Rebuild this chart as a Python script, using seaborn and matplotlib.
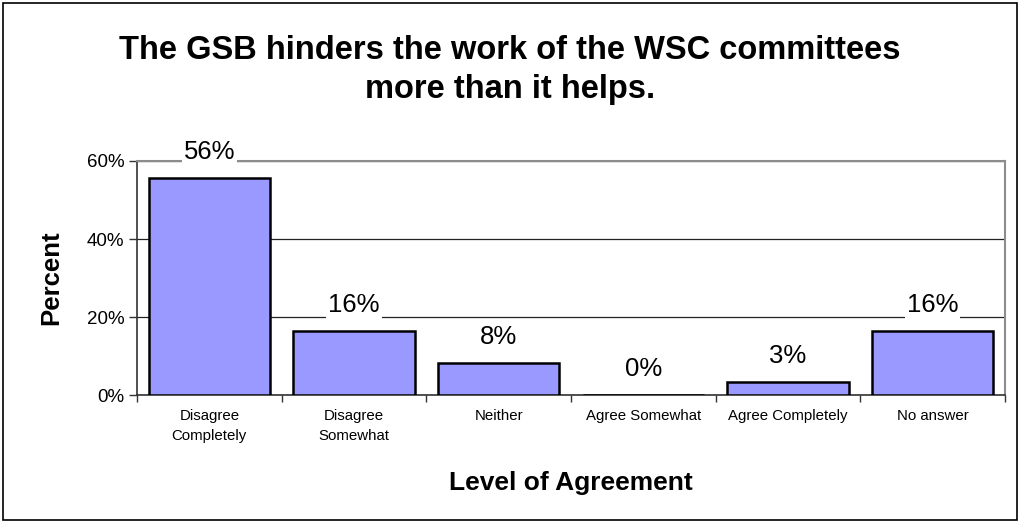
import matplotlib

matplotlib.use("Agg")
import matplotlib.pyplot as plt
import numpy as np
import pandas as pd
import seaborn as sns
from matplotlib.patches import Rectangle
from matplotlib.ticker import FixedLocator, PercentFormatter

categories = [
    "Disagree\nCompletely",
    "Disagree\nSomewhat",
    "Neither",
    "Agree Somewhat",
    "Agree Completely",
    "No answer",
]
percent = [55.7, 16.4, 8.2, 0.0, 3.3, 16.4]
y_ticks = [0, 20, 40, 60]

TITLE = "The GSB hinders the work of the WSC committees\nmore than it helps."

sns.set_theme(style="white")
plt.rcParams["font.family"] = ["Liberation Sans", "DejaVu Sans"]
plt.rcParams["text.color"] = "black"
plt.rcParams["axes.labelcolor"] = "black"

df = pd.DataFrame({"category": categories, "percent": percent})

fig = plt.figure(figsize=(10.2, 5.23), dpi=100)
ax = fig.add_axes([137 / 1020, 1 - 395 / 523, (1005 - 137) / 1020, (395 - 161) / 523])

sns.barplot(
    data=df,
    x="category",
    y="percent",
    color="#9999FF",
    saturation=1,
    edgecolor="black",
    linewidth=1.8,
    width=0.84,
    ax=ax,
    zorder=3,
)

ax.set_ylim(0, 60)
ax.set_xlim(-0.5, len(categories) - 0.5)
ax.yaxis.set_major_locator(FixedLocator(y_ticks))
ax.yaxis.set_major_formatter(PercentFormatter(decimals=0))
ax.grid(axis="y", color="#222222", linewidth=0.9, zorder=0)
ax.set_axisbelow(True)

# x ticks sit between categories, labels at centres
ax.set_xticks(np.arange(len(categories)))
ax.set_xticks(np.arange(len(categories) + 1) - 0.5, minor=True)
ax.tick_params(axis="x", which="major", length=0, labelsize=10.8, pad=10, colors="black")
ax.tick_params(axis="x", which="minor", length=5, width=1, direction="out", color="#333333", bottom=True)
ax.tick_params(axis="y", length=6, width=1, direction="out", color="#333333", left=True,
               labelsize=13.5, pad=3, labelcolor="black")
for lab in ax.get_xticklabels():
    lab.set_linespacing(1.55)

for side in ["top", "right"]:
    ax.spines[side].set_color("#8c8c8c")
    ax.spines[side].set_linewidth(1.5)
for side in ["left", "bottom"]:
    ax.spines[side].set_color("#333333")
    ax.spines[side].set_linewidth(1.2)

ax.bar_label(
    ax.containers[0],
    labels=[f"{round(v):.0f}%" for v in percent],
    padding=10,
    fontsize=18.5,
    color="black",
    bbox=dict(facecolor="white", edgecolor="none", pad=1.5),
    zorder=4,
)

ax.set_xlabel("Level of Agreement", fontsize=19, fontweight="bold", labelpad=20)
ax.set_ylabel("Percent", fontsize=18.5, fontweight="bold", labelpad=17)

fig.text(0.5, 1 - 70 / 523, TITLE, ha="center", va="center",
         fontsize=23.5, fontweight="bold", linespacing=1.3)

fig.patches.append(Rectangle((3 / 1020, 3 / 523), 1 - 6 / 1020, 1 - 6 / 523,
                             transform=fig.transFigure, fill=False,
                             edgecolor="black", linewidth=1.2))

fig.savefig("out.png", dpi=100)
